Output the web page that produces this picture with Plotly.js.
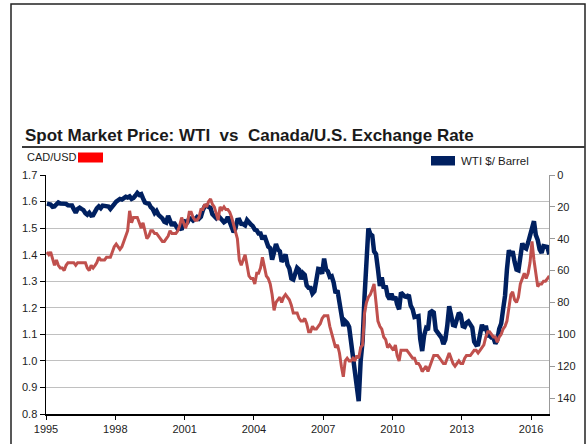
<!DOCTYPE html>
<html>
<head>
<meta charset="utf-8">
<script src="https://cdn.plot.ly/plotly-3.0.1.min.js"></script>
<style>
  html, body { margin: 0; padding: 0; background: #ffffff; }
  #chart { width: 588px; height: 444px; }
</style>
</head>
<body>
<div id="chart"></div>
<script>
// ---- Data (monthly readings, Jan 1995 .. Oct 2016) ----
const startYear = 1995;

// WTI spot price, $/barrel (plotted on reversed right axis)
const wtiMonthly = [
  18.0, 18.5, 18.6, 19.9, 19.7, 18.4, 17.3, 17.9, 18.0, 17.5, 18.1, 19.0, // 1995
  18.9, 19.1, 21.4, 23.6, 21.3, 20.5, 21.3, 22.0, 24.0, 24.9, 23.7, 25.4, // 1996
  25.2, 22.2, 20.9, 19.7, 20.8, 19.2, 19.6, 19.9, 19.8, 21.3, 20.2, 18.3, // 1997
  16.7, 16.1, 15.0, 15.4, 14.9, 13.7, 14.1, 13.4, 15.0, 14.4, 12.9, 11.3, // 1998
  12.5, 12.0, 14.7, 17.3, 17.8, 17.9, 20.1, 21.3, 23.9, 22.6, 25.0, 26.1, // 1999
  27.2, 29.4, 29.9, 25.7, 28.8, 31.8, 29.7, 31.3, 33.9, 33.1, 34.4, 28.5, // 2000
  29.6, 29.6, 27.2, 27.4, 28.6, 27.6, 26.4, 27.4, 26.2, 22.2, 19.6, 19.3, // 2001
  19.7, 20.7, 24.5, 26.2, 27.0, 25.5, 26.9, 28.4, 29.7, 28.9, 26.3, 29.4, // 2002
  32.9, 35.9, 33.6, 28.3, 28.1, 30.7, 30.8, 31.6, 28.3, 30.3, 31.1, 32.1, // 2003
  34.3, 34.7, 36.7, 36.7, 40.3, 38.0, 40.8, 44.9, 45.9, 53.1, 48.5, 43.3, // 2004
  46.8, 48.0, 54.3, 53.0, 49.8, 56.3, 58.7, 65.0, 65.6, 62.4, 58.3, 59.4, // 2005
  65.5, 61.6, 62.7, 69.4, 70.8, 70.9, 74.4, 73.0, 63.8, 58.9, 59.1, 62.0, // 2006
  52.5, 59.3, 60.4, 63.9, 63.5, 67.5, 74.1, 72.4, 79.9, 85.8, 94.8, 91.7, // 2007
  93.0, 95.4, 105.5, 112.6, 125.4, 134.0, 142.0, 116.7, 104.1, 76.6, 54.0, 33.5, // 2008
  37.0, 38.0, 47.9, 49.7, 59.0, 69.6, 64.2, 71.1, 69.4, 75.7, 78.0, 74.5, // 2009
  78.3, 76.4, 81.2, 84.3, 73.7, 75.3, 76.3, 76.6, 75.2, 81.9, 84.3, 89.2, // 2010
  89.2, 88.6, 102.9, 110.5, 100.9, 96.3, 97.3, 86.3, 85.5, 86.3, 97.2, 98.6, // 2011
  100.3, 102.2, 106.2, 103.3, 94.7, 82.3, 87.9, 94.1, 94.5, 89.5, 86.5, 87.9, // 2012
  94.8, 95.3, 92.9, 92.0, 94.5, 95.8, 104.6, 106.6, 106.3, 100.5, 93.9, 97.6, // 2013
  94.6, 100.8, 100.8, 102.1, 102.2, 105.8, 103.6, 96.5, 93.2, 84.4, 75.8, 59.3, // 2014
  47.2, 50.6, 47.8, 54.5, 59.3, 59.8, 50.9, 42.9, 45.5, 46.2, 42.4, 37.2, // 2015
  32.0, 29.0, 37.6, 40.8, 46.7, 48.8, 44.7, 44.7, 45.2, 49.8              // 2016
];

// CAD per USD (left axis)
const cadMonthly = [
  1.41, 1.40, 1.41, 1.38, 1.36, 1.38, 1.36, 1.35, 1.35, 1.34, 1.36, 1.37, // 1995
  1.37, 1.37, 1.37, 1.36, 1.37, 1.37, 1.37, 1.37, 1.37, 1.35, 1.34, 1.36, // 1996
  1.35, 1.36, 1.37, 1.39, 1.38, 1.38, 1.38, 1.39, 1.39, 1.39, 1.41, 1.43, // 1997
  1.44, 1.43, 1.42, 1.43, 1.45, 1.47, 1.49, 1.565, 1.52, 1.54, 1.54, 1.54, // 1998
  1.52, 1.50, 1.52, 1.49, 1.46, 1.47, 1.49, 1.49, 1.48, 1.48, 1.47, 1.46, // 1999
  1.45, 1.45, 1.46, 1.47, 1.49, 1.48, 1.48, 1.48, 1.49, 1.51, 1.54, 1.52, // 2000
  1.50, 1.52, 1.56, 1.56, 1.54, 1.53, 1.53, 1.54, 1.57, 1.57, 1.59, 1.58, // 2001
  1.60, 1.61, 1.59, 1.58, 1.55, 1.53, 1.58, 1.57, 1.58, 1.57, 1.57, 1.56, // 2002
  1.54, 1.51, 1.48, 1.46, 1.38, 1.36, 1.38, 1.40, 1.36, 1.32, 1.31, 1.31, // 2003
  1.29, 1.33, 1.33, 1.35, 1.39, 1.36, 1.32, 1.31, 1.29, 1.25, 1.19, 1.22, // 2004
  1.23, 1.24, 1.22, 1.24, 1.25, 1.24, 1.23, 1.21, 1.18, 1.18, 1.18, 1.16, // 2005
  1.15, 1.15, 1.16, 1.14, 1.11, 1.11, 1.13, 1.12, 1.12, 1.13, 1.14, 1.16, // 2006
  1.17, 1.17, 1.17, 1.13, 1.10, 1.07, 1.05, 1.06, 1.03, 0.98, 0.94, 1.00, // 2007
  1.01, 1.00, 1.00, 1.01, 1.00, 1.02, 1.01, 1.05, 1.06, 1.18, 1.22, 1.24, // 2008
  1.25, 1.27, 1.29, 1.22, 1.15, 1.13, 1.12, 1.09, 1.08, 1.05, 1.06, 1.05, // 2009
  1.04, 1.06, 1.02, 1.00, 1.04, 1.04, 1.04, 1.04, 1.03, 1.02, 1.01, 1.01, // 2010
  0.99, 0.99, 0.98, 0.96, 0.97, 0.98, 0.96, 0.98, 1.00, 1.02, 1.02, 1.02, // 2011
  1.01, 1.00, 0.99, 0.99, 1.01, 1.03, 1.01, 0.99, 0.98, 0.99, 1.00, 0.99, // 2012
  0.99, 1.01, 1.02, 1.02, 1.02, 1.03, 1.04, 1.04, 1.03, 1.04, 1.05, 1.06, // 2013
  1.09, 1.11, 1.11, 1.10, 1.09, 1.09, 1.07, 1.09, 1.10, 1.12, 1.13, 1.15, // 2014
  1.21, 1.25, 1.26, 1.23, 1.22, 1.24, 1.29, 1.31, 1.33, 1.31, 1.33, 1.37, // 2015
  1.45, 1.38, 1.32, 1.28, 1.29, 1.29, 1.30, 1.30, 1.31, 1.32              // 2016
];

const cadTicks = [0.8, 0.9, 1.0, 1.1, 1.2, 1.3, 1.4, 1.5, 1.6, 1.7];
const wtiTicks = [0, 20, 40, 60, 80, 100, 120, 140];

const titleText = 'Spot Market Price: WTI \u00a0vs \u00a0Canada/U.S. Exchange Rate';
const cadLabel = 'CAD/USD';
const wtiLabel = 'WTI $/ Barrel';

// month dates (mid-month)
function monthDates(n) {
  const out = [];
  for (let i = 0; i < n; i++) {
    const y = startYear + Math.floor(i / 12);
    const m = (i % 12) + 1;
    out.push(y + '-' + (m < 10 ? '0' + m : m) + '-15');
  }
  return out;
}

const navy = '#002060';
const brick = '#C0504D';

const traces = [
  {
    x: monthDates(wtiMonthly.length), y: wtiMonthly, yaxis: 'y',
    type: 'scatter', mode: 'lines', name: wtiLabel,
    line: { color: navy, width: 4.5 }, hoverinfo: 'skip'
  },
  {
    x: monthDates(cadMonthly.length), y: cadMonthly, yaxis: 'y2',
    type: 'scatter', mode: 'lines', name: cadLabel,
    line: { color: brick, width: 3 }, hoverinfo: 'skip'
  }
];

// plot area: x 46..549, y 175..414 (px)
const L = 46, R = 549, T = 175, B = 414;
const W = R - L, H = B - T;
const px = v => (v - L) / W;
const py = v => (B - v) / H;

const tickFont = { family: 'Liberation Sans, Arial, sans-serif', size: 11, color: '#222222' };

const layout = {
  width: 588, height: 444,
  margin: { l: L, r: 588 - R, t: T, b: 444 - B, pad: 0 },
  paper_bgcolor: '#ffffff', plot_bgcolor: '#ffffff',
  showlegend: false,
  xaxis: {
    type: 'date',
    range: ['1995-01-01', '2016-10-10'],
    tick0: '1995-01-01', dtick: 'M36', tickformat: '%Y',
    showgrid: false, zeroline: false,
    showline: true, linecolor: '#000000', linewidth: 1.5,
    ticks: 'outside', ticklen: 4, tickcolor: '#000000', tickwidth: 1,
    tickfont: tickFont, fixedrange: true
  },
  yaxis: {
    side: 'right',
    range: [150, 0],
    tickvals: wtiTicks,
    showgrid: false, zeroline: false,
    showline: true, linecolor: '#999999', linewidth: 1,
    ticks: 'outside', ticklen: 5, tickcolor: '#999999',
    tickfont: tickFont, fixedrange: true
  },
  yaxis2: {
    overlaying: 'y', side: 'left',
    range: [0.8, 1.7],
    tickvals: cadTicks, tickformat: '.1f',
    showgrid: true, gridcolor: '#c0c0c0', gridwidth: 1.2,
    zeroline: false,
    showline: true, linecolor: '#000000', linewidth: 1.5,
    ticks: 'outside', ticklen: 5, tickcolor: '#000000',
    tickfont: tickFont, fixedrange: true
  },
  shapes: [
    // outer frame
    { type: 'rect', xref: 'paper', yref: 'paper',
      x0: px(11), x1: px(585), y0: py(460), y1: py(4),
      line: { color: '#222222', width: 1.5 }, fillcolor: 'rgba(0,0,0,0)' },
    // title underline
    { type: 'line', xref: 'paper', yref: 'paper',
      x0: px(22), x1: px(585), y0: py(147), y1: py(147),
      line: { color: '#3a3a3a', width: 2 } },
    // CAD/USD swatch
    { type: 'rect', xref: 'paper', yref: 'paper',
      x0: px(78), x1: px(103), y0: py(162.5), y1: py(152.5),
      line: { width: 0 }, fillcolor: '#FF0000' },
    // WTI swatch
    { type: 'rect', xref: 'paper', yref: 'paper',
      x0: px(431), x1: px(455), y0: py(165.5), y1: py(156),
      line: { width: 0 }, fillcolor: navy }
  ],
  annotations: [
    { text: '<b>' + titleText + '</b>', xref: 'paper', yref: 'paper',
      x: px(23), y: py(135), xanchor: 'left', yanchor: 'middle', showarrow: false,
      font: { family: 'Liberation Sans, Arial, sans-serif', size: 17, color: '#1a1a1a' } },
    { text: cadLabel, xref: 'paper', yref: 'paper',
      x: px(25), y: py(156.5), xanchor: 'left', yanchor: 'middle', showarrow: false,
      font: { family: 'Liberation Sans, Arial, sans-serif', size: 11, color: '#1a1a1a' } },
    { text: wtiLabel, xref: 'paper', yref: 'paper',
      x: px(459), y: py(161), xanchor: 'left', yanchor: 'middle', showarrow: false,
      font: { family: 'Liberation Sans, Arial, sans-serif', size: 11.5, color: '#1a1a1a' } }
  ]
};

Plotly.newPlot('chart', traces, layout, { staticPlot: true, displayModeBar: false });
</script>
</body>
</html>
